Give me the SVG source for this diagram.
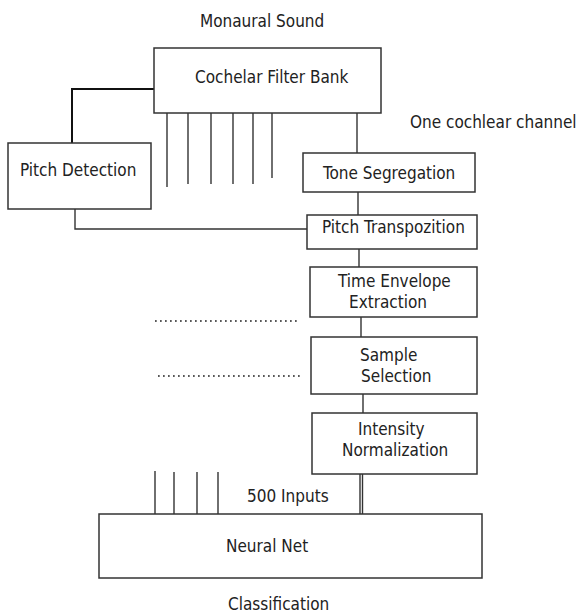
<svg xmlns="http://www.w3.org/2000/svg" width="582" height="615" viewBox="0 0 582 615">
<style>
.box{fill:#fff;stroke:#333;stroke-width:1.5}
.ln{fill:none;stroke:#333;stroke-width:1.4}
.thick{fill:none;stroke:#111;stroke-width:2}
.dot{fill:none;stroke:#222;stroke-width:1.7;stroke-dasharray:1.7 3.3}
text{font-family:"DejaVu Sans Condensed","DejaVu Sans",sans-serif;font-stretch:condensed;font-size:17px;fill:#222}
</style>
<rect width="582" height="615" fill="#fff"/>
<g id="connectors">
<polyline class="thick" points="154,89 72,89 72,143"/>
<line class="ln" x1="167" y1="113" x2="167" y2="187"/>
<line class="ln" x1="188" y1="113" x2="188" y2="184"/>
<line class="ln" x1="211" y1="113" x2="211" y2="184"/>
<line class="ln" x1="233" y1="113" x2="233" y2="184"/>
<line class="ln" x1="253" y1="113" x2="253" y2="184"/>
<line class="ln" x1="272" y1="113" x2="272" y2="178"/>
<line class="ln" x1="357" y1="113" x2="357" y2="153"/>
<line class="ln" x1="358" y1="192" x2="358" y2="215"/>
<polyline class="ln" points="75,209 75,229 307,229"/>
<line class="ln" x1="359" y1="249" x2="359" y2="267"/>
<line class="ln" x1="361" y1="317" x2="361" y2="337"/>
<line class="ln" x1="363" y1="394" x2="363" y2="413"/>
<line class="ln" x1="360" y1="474" x2="360" y2="514"/>
<line class="ln" x1="362.5" y1="474" x2="362.5" y2="514"/>
<line class="ln" x1="155" y1="471" x2="155" y2="514"/>
<line class="ln" x1="174" y1="472" x2="174" y2="514"/>
<line class="ln" x1="197" y1="472" x2="197" y2="514"/>
<line class="ln" x1="218" y1="472" x2="218" y2="514"/>
<line class="dot" x1="155" y1="321" x2="298" y2="321"/>
<line class="dot" x1="158" y1="376" x2="300" y2="376"/>
</g>
<text x="200" y="27">Monaural Sound</text>
<text x="410" y="128">One cochlear channel</text>
<text x="247" y="502">500 Inputs</text>
<text x="228" y="610">Classification</text>
<g id="filterbank">
<rect class="box" x="154" y="48" width="227" height="65"/>
<text x="195" y="83">Cochelar Filter Bank</text>
</g>
<g id="pitchdetection">
<rect class="box" x="8" y="143" width="143" height="66"/>
<text x="20" y="176">Pitch Detection</text>
</g>
<g id="tonesegregation">
<rect class="box" x="303" y="153" width="172" height="39"/>
<text x="323" y="179">Tone Segregation</text>
</g>
<g id="pitchtransposition">
<rect class="box" x="307" y="215" width="170" height="34"/>
<text x="322" y="233">Pitch Transpozition</text>
</g>
<g id="timeenvelope">
<rect class="box" x="310" y="267" width="167" height="50"/>
<text x="338" y="287">Time Envelope</text>
<text x="349" y="308">Extraction</text>
</g>
<g id="sampleselection">
<rect class="box" x="311" y="337" width="166" height="57"/>
<text x="360" y="361">Sample</text>
<text x="361" y="382">Selection</text>
</g>
<g id="intensity">
<rect class="box" x="312" y="413" width="165" height="61"/>
<text x="358" y="435">Intensity</text>
<text x="342" y="456">Normalization</text>
</g>
<g id="neuralnet">
<rect class="box" x="99" y="514" width="383" height="64"/>
<text x="226" y="552">Neural Net</text>
</g>
</svg>
